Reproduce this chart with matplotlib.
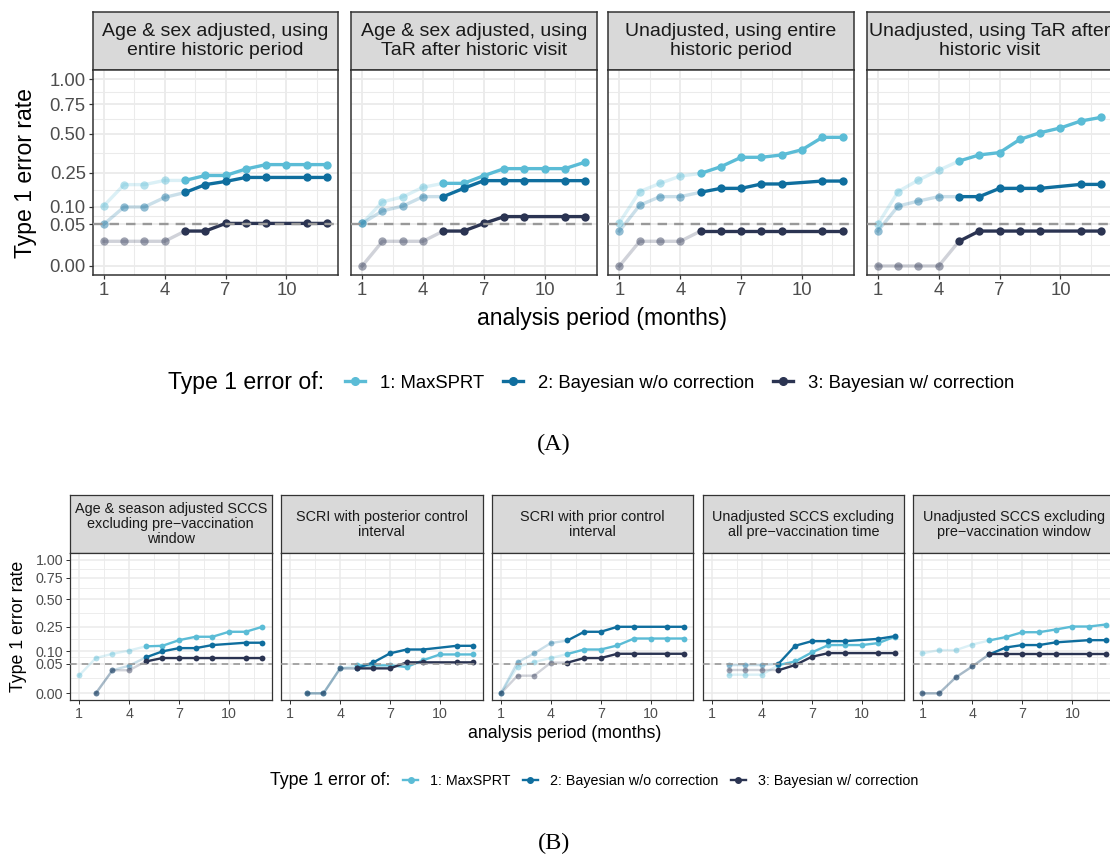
import numpy as np
import matplotlib.pyplot as plt
from matplotlib.lines import Line2D

plt.rcParams['font.family'] = ['Liberation Sans', 'DejaVu Sans']

W, H = 1110, 857
nan = np.nan
months = np.arange(1, 13)

series_labels = ['1: MaxSPRT', '2: Bayesian w/o correction', '3: Bayesian w/ correction']
series_colors = ['#5BBCD6', '#0F6E9E', '#2B3452']

y_breaks = [0, 0.05, 0.10, 0.25, 0.50, 0.75, 1.00]
y_labels = ['0.00', '0.05', '0.10', '0.25', '0.50', '0.75', '1.00']
x_breaks = [1, 4, 7, 10]

# (A) historic comparison designs
a_titles = ['Age & sex adjusted, using\nentire historic period',
            'Age & sex adjusted, using\nTaR after historic visit',
            'Unadjusted, using entire\nhistoric period',
            'Unadjusted, using TaR after\nhistoric visit']
a_maxsprt = [
    [0.104, 0.19, 0.19, 0.21, 0.21, 0.235, 0.235, 0.27, 0.295, 0.295, 0.295, 0.295],
    [0.052, 0.118, 0.137, 0.178, 0.196, 0.196, 0.234, 0.272, 0.272, 0.272, 0.272, 0.31],
    [0.054, 0.159, 0.196, 0.232, 0.246, 0.283, 0.339, 0.339, 0.354, 0.388, 0.475, 0.475],
    [0.05, 0.159, 0.212, 0.263, 0.316, 0.354, 0.369, 0.46, 0.51, 0.547, 0.603, 0.634],
]
a_bayes = [
    [0.05, 0.10, 0.10, 0.135, 0.155, 0.19, 0.205, 0.225, 0.225, nan, 0.225, 0.225],
    [0.052, 0.087, 0.103, 0.138, 0.138, 0.173, 0.209, 0.209, 0.209, nan, 0.209, 0.209],
    [0.035, 0.106, 0.138, 0.138, 0.156, 0.173, 0.173, 0.193, 0.193, nan, 0.207, 0.207],
    [0.035, 0.103, 0.121, 0.138, 0.138, 0.138, 0.173, 0.173, 0.173, nan, 0.191, 0.191],
]
a_bayes_corr = [
    [0.0175, 0.0175, 0.0175, 0.0175, 0.035, 0.035, 0.052, 0.052, 0.052, nan, 0.052, 0.052],
    [0.0, 0.0175, 0.0175, 0.0175, 0.035, 0.035, 0.052, 0.07, 0.07, nan, 0.07, 0.07],
    [0.0, 0.0175, 0.0175, 0.0175, 0.035, 0.035, 0.035, 0.035, 0.035, nan, 0.035, 0.035],
    [0.0, 0.0, 0.0, 0.0, 0.0175, 0.035, 0.035, 0.035, 0.035, nan, 0.035, 0.035],
]

# (B) self-controlled designs
b_titles = ['Age & season adjusted SCCS\nexcluding pre\u2212vaccination\nwindow',
            'SCRI with posterior control\ninterval',
            'SCRI with prior control\ninterval',
            'Unadjusted SCCS excluding\nall pre\u2212vaccination time',
            'Unadjusted SCCS excluding\npre\u2212vaccination window']
b_maxsprt = [
    [0.018, 0.07, 0.088, 0.103, 0.124, 0.127, 0.159, 0.18, 0.18, 0.213, 0.213, 0.249],
    [nan, 0.0, 0.0, 0.035, 0.044, 0.044, 0.044, 0.039, 0.062, 0.085, 0.085, 0.085],
    [0.0, 0.04, 0.055, 0.07, 0.087, 0.108, 0.108, 0.129, 0.169, 0.169, 0.169, 0.169],
    [nan, 0.0195, 0.0195, 0.0195, 0.045, 0.057, 0.094, 0.131, 0.131, 0.131, 0.142, 0.181],
    [0.09, 0.105, 0.105, 0.134, 0.157, 0.178, 0.21, 0.21, 0.229, 0.251, 0.251, 0.266],
]
b_bayes = [
    [nan, 0.0, 0.03, 0.043, 0.0725, 0.099, 0.115, 0.115, 0.131, nan, 0.144, 0.144],
    [nan, 0.0, 0.0, 0.035, 0.035, 0.054, 0.09, 0.108, 0.108, nan, 0.127, 0.127],
    [0.0, 0.054, 0.09, 0.142, 0.157, 0.213, 0.213, 0.249, 0.249, nan, 0.249, 0.249],
    [nan, 0.045, 0.045, 0.045, 0.049, 0.127, 0.153, 0.153, 0.153, nan, 0.167, 0.184],
    [0.0, 0.0, 0.0143, 0.041, 0.085, 0.118, 0.131, 0.131, 0.146, nan, 0.159, 0.159],
]
b_bayes_corr = [
    [nan, 0.0, 0.03, 0.03, 0.057, 0.07, 0.07, 0.07, 0.07, nan, 0.07, 0.07],
    [nan, 0.0, 0.0, 0.035, 0.035, 0.035, 0.035, 0.054, 0.054, nan, 0.054, 0.054],
    [0.0, 0.0175, 0.0175, 0.053, 0.053, 0.07, 0.07, 0.088, 0.088, nan, 0.088, 0.088],
    [nan, 0.03, 0.03, 0.03, 0.03, 0.045, 0.075, 0.091, 0.091, nan, 0.091, 0.091],
    [0.0, 0.0, 0.0143, 0.041, 0.085, 0.085, 0.085, 0.085, 0.085, nan, 0.085, 0.085],
]


def sqrt_fwd(v):
    v = np.asarray(v, float)
    return np.sign(v) * np.sqrt(np.abs(v))


def sqrt_inv(t):
    t = np.asarray(t, float)
    return np.sign(t) * t ** 2


fig = plt.figure(figsize=(W / 100, H / 100), dpi=100)


def px_axes(left, top, width, height):
    return fig.add_axes([left / W, 1 - (top + height) / H, width / W, height / H])


def draw_strip(left, top, width, height, text, fs, lw, spacing):
    s = px_axes(left, top, width, height)
    s.set_facecolor('#D9D9D9')
    s.set_xticks([])
    s.set_yticks([])
    for sp in s.spines.values():
        sp.set_color('#333333')
        sp.set_linewidth(lw)
    s.text(0.5, 0.5, text, ha='center', va='center', fontsize=fs, color='#1A1A1A',
           linespacing=spacing, transform=s.transAxes)


def draw_panel(ax, series, lw, ms, fs, first, spine_lw, dash_lw):
    ax.set_yscale('function', functions=(sqrt_fwd, sqrt_inv))
    ax.set_xlim(0.45, 12.55)
    ax.set_ylim(-0.05 ** 2, 1.05 ** 2)
    sq = np.sqrt(y_breaks)
    ax.set_yticks(y_breaks)
    ax.set_yticklabels(y_labels)
    ax.set_yticks(((sq[:-1] + sq[1:]) / 2) ** 2, minor=True)
    ax.set_xticks(x_breaks)
    ax.set_xticks([2.5, 5.5, 8.5, 11.5], minor=True)
    ax.grid(which='major', color='#EBEBEB', lw=spine_lw * 1.2)
    ax.grid(which='minor', color='#EBEBEB', lw=spine_lw * 0.7)
    ax.set_axisbelow(True)
    ax.tick_params(which='minor', length=0)
    ax.tick_params(which='major', length=3, width=spine_lw * 0.8, color='#333333',
                   labelsize=fs, labelcolor='#4D4D4D', pad=2)
    if not first:
        ax.tick_params(axis='y', left=False, labelleft=False)
    for sp in ax.spines.values():
        sp.set_color('#333333')
        sp.set_linewidth(spine_lw)

    for vals, c in zip(series, series_colors):
        v = np.array(vals, float)
        ok = ~np.isnan(v)
        x, y = months[ok], v[ok]
        ax.plot(x[x <= 5], y[x <= 5], color=c, lw=lw, alpha=0.22, zorder=2)
        ax.plot(x[x <= 4], y[x <= 4], 'o', color=c, ms=ms, mew=0, alpha=0.45, zorder=2)
        ax.plot(x[x >= 5], y[x >= 5], color=c, lw=lw, marker='o', ms=ms, mew=0, zorder=3)
    ax.axhline(0.05, color='#999999', lw=dash_lw, ls=(0, (4, 3)), zorder=4)


# ---- (A)
a_left = [92.7, 351.0, 608.3, 866.7]
for i, left in enumerate(a_left):
    draw_strip(left, 12, 245.5, 58, a_titles[i], 14, 1.1, 1.1)
    ax = px_axes(left, 70, 245.5, 205.3)
    draw_panel(ax, [a_maxsprt[i], a_bayes[i], a_bayes_corr[i]],
               2.4, 6.0, 13.3, i == 0, 1.1, 1.7)

fig.text(26 / W, 1 - 172.7 / H, 'Type 1 error rate', rotation=90,
         ha='center', va='center', fontsize=16.6)
fig.text(602 / W, 1 - 318 / H, 'analysis period (months)',
         ha='center', va='center', fontsize=16.6)
fig.text(168 / W, 1 - 383 / H, 'Type 1 error of:', ha='left', va='center', fontsize=16.6)
handles_a = [Line2D([], [], color=c, lw=2.4, marker='o', ms=5.5) for c in series_colors]
fig.legend(handles_a, series_labels, loc='center left', bbox_to_anchor=(345 / W, 1 - 383 / H),
           ncol=3, frameon=False, fontsize=13.3, handlelength=1.1, handletextpad=0.8,
           columnspacing=1.0, borderpad=0, borderaxespad=0)
fig.text(554 / W, 1 - 444 / H, '(A)', ha='center', va='center', fontsize=17.5,
         family='Liberation Serif')

# ---- (B)
b_left = [70.0, 281.0, 491.7, 702.7, 913.3]
for i, left in enumerate(b_left):
    draw_strip(left, 495, 201.5, 58.3, b_titles[i], 10.4, 0.9, 1.1)
    ax = px_axes(left, 553.3, 201.5, 146.7)
    draw_panel(ax, [b_maxsprt[i], b_bayes[i], b_bayes_corr[i]],
               1.7, 4.2, 10.3, i == 0, 0.9, 1.2)

fig.text(19 / W, 1 - 626.7 / H, 'Type 1 error rate', rotation=90,
         ha='center', va='center', fontsize=12.8)
fig.text(565 / W, 1 - 733 / H, 'analysis period (months)',
         ha='center', va='center', fontsize=12.8)
fig.text(270 / W, 1 - 780.7 / H, 'Type 1 error of:', ha='left', va='center', fontsize=12.8)
handles_b = [Line2D([], [], color=c, lw=1.7, marker='o', ms=4) for c in series_colors]
fig.legend(handles_b, series_labels, loc='center left', bbox_to_anchor=(403 / W, 1 - 780.7 / H),
           ncol=3, frameon=False, fontsize=10.3, handlelength=1.05, handletextpad=0.85,
           columnspacing=0.85, borderpad=0, borderaxespad=0)
fig.text(554 / W, 1 - 843 / H, '(B)', ha='center', va='center', fontsize=17.5,
         family='Liberation Serif')

fig.savefig('out.png', dpi=100)
